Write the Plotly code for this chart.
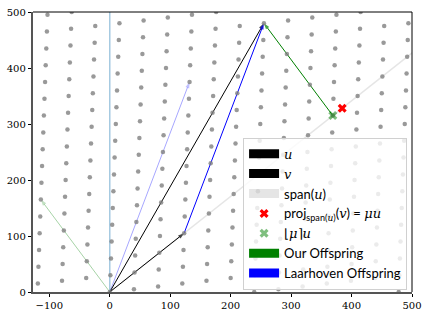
import numpy as np
import plotly.graph_objects as go

# ---- data ----
B1 = [40, 5]          # lattice basis vector 1
B2 = [1, 30]          # lattice basis vector 2
U = [123, 105]        # vector u
V = [255, 480]        # vector v
ROUNDED_MU = 3        # rounded projection coefficient
X_TICKS = [-100, 0, 100, 200, 300, 400, 500]
Y_TICKS = [0, 100, 200, 300, 400, 500]
X_RANGE = [-127, 500]
Y_RANGE = [0, 500]
VLINE_X = 0

MATH = "<span style=\"font-family:'DejaVu Serif';font-style:italic\">%s</span>"
LEGEND_NAMES = [MATH % "u", MATH % "v", "span(" + MATH % "u" + ")",
                "proj<sub>span(" + MATH % "u" + ")</sub>(" + MATH % "v" + ") = " + MATH % "μu",
                "⌊" + MATH % "μ" + "⌉" + MATH % "u", "Our Offspring", "Laarhoven Offspring"]

# ---- derived quantities ----
u = np.array(U, float)
v = np.array(V, float)
mu = u.dot(v) / u.dot(u)
proj = mu * u
ru = ROUNDED_MU * u
laar = v - u
ours = v - ru

lx, ly = [], []
for a in range(-10, 20):
    for b in range(-6, 25):
        p = a * np.array(B1) + b * np.array(B2)
        if X_RANGE[0] - 3 <= p[0] <= X_RANGE[1] + 3 and Y_RANGE[0] - 3 <= p[1] <= Y_RANGE[1] + 3:
            lx.append(p[0]); ly.append(p[1])

fig = go.Figure()

# span(u)
fig.add_trace(go.Scatter(x=[0, u[0] * 6], y=[0, u[1] * 6], mode="lines",
                         line=dict(color="rgba(0,0,0,0.1)", width=1.5),
                         showlegend=False, hoverinfo="skip"))
# light blue vertical line
fig.add_trace(go.Scatter(x=[VLINE_X, VLINE_X], y=Y_RANGE, mode="lines",
                         line=dict(color="rgba(31,119,180,0.4)", width=1.5),
                         showlegend=False, hoverinfo="skip"))


def arrow(tail, head, color, width=1.0):
    fig.add_trace(go.Scatter(
        x=[tail[0], head[0]], y=[tail[1], head[1]], mode="lines+markers",
        line=dict(color=color, width=width),
        marker=dict(symbol="arrow", angleref="previous", size=[0, 6.5], color=color,
                    line=dict(width=0)),
        showlegend=False, hoverinfo="skip", cliponaxis=False))


arrow([0, 0], laar, "rgba(0,0,255,0.35)")
arrow([0, 0], ours, "rgba(0,128,0,0.35)")
arrow([0, 0], u, "black")
arrow([0, 0], v, "black")
arrow(u, v, "blue")
arrow(ru, v, "green")

# lattice
fig.add_trace(go.Scatter(x=lx, y=ly, mode="markers",
                         marker=dict(color="rgba(128,128,128,0.8)", size=4.5),
                         showlegend=False, hoverinfo="skip"))


# legend proxies + markers
def proxy(name, color, rank):
    fig.add_trace(go.Scatter(x=[None], y=[None], mode="lines", name=name,
                             line=dict(color=color, width=9), legendrank=rank))


proxy(LEGEND_NAMES[0], "black", 1)
proxy(LEGEND_NAMES[1], "black", 2)
proxy(LEGEND_NAMES[2], "rgba(0,0,0,0.1)", 3)
fig.add_trace(go.Scatter(x=[proj[0]], y=[proj[1]], mode="markers", name=LEGEND_NAMES[3],
                         marker=dict(symbol="x", color="red", size=8, line=dict(width=0)),
                         legendrank=4, hoverinfo="skip"))
fig.add_trace(go.Scatter(x=[ru[0]], y=[ru[1]], mode="markers", name=LEGEND_NAMES[4],
                         marker=dict(symbol="x", color="rgba(0,128,0,0.5)", size=8, line=dict(width=0)),
                         legendrank=5, hoverinfo="skip"))
proxy(LEGEND_NAMES[5], "green", 6)
proxy(LEGEND_NAMES[6], "blue", 7)

axis_font = dict(family="DejaVu Serif", size=10, color="black")
fig.update_layout(
    width=424, height=311,
    margin=dict(l=33, r=12, t=12, b=19, autoexpand=False),
    plot_bgcolor="white", paper_bgcolor="white",
    xaxis=dict(range=X_RANGE, tickvals=X_TICKS, showgrid=False, zeroline=False,
               showline=True, linecolor="#555", linewidth=1.5, ticks="outside",
               ticklen=3.5, tickcolor="black", tickfont=axis_font, automargin=False),
    yaxis=dict(range=Y_RANGE, tickvals=Y_TICKS, showgrid=False, zeroline=False,
               showline=True, linecolor="#555", linewidth=1.5, ticks="outside",
               ticklen=3.5, tickcolor="black", tickfont=axis_font, automargin=False),
    legend=dict(x=0.987, y=0.008, xanchor="right", yanchor="bottom",
                bgcolor="rgba(255,255,255,0.8)", bordercolor="#d0d0d0", borderwidth=1,
                font=dict(family="Lato", size=13, color="black"), tracegroupgap=0),
    showlegend=True,
    shapes=[
        dict(type="line", xref="paper", yref="paper", x0=0, x1=1, y0=1, y1=1,
             line=dict(color="black", width=1)),
        dict(type="line", xref="paper", yref="paper", x0=1, x1=1, y0=0, y1=1,
             line=dict(color="black", width=1)),
    ],
)

fig.write_html("out.html", config={"displayModeBar": False},
               post_script="document.body.style.margin='0';document.body.style.overflow='hidden';")
